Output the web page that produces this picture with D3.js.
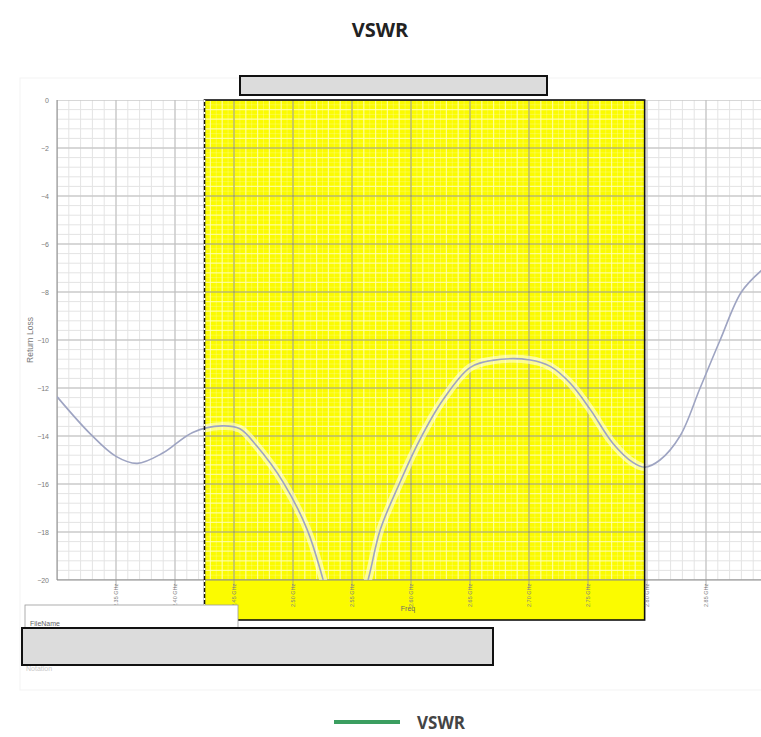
<!DOCTYPE html>
<html>
<head>
<meta charset="utf-8">
<script src="https://cdn.jsdelivr.net/npm/d3@7"></script>
<style>
  html, body { margin: 0; padding: 0; background: #fff; }
  svg { display: block; font-family: "Open Sans", "DejaVu Sans", sans-serif; }
</style>
</head>
<body>
<svg id="chart" width="761" height="737"></svg>
<script>
// Measured return loss sweep (frequency in GHz, return loss in dB)
const freqGHz = [
  2.300, 2.328, 2.350, 2.368, 2.390, 2.415, 2.440, 2.455, 2.469, 2.492,
  2.512, 2.525, 2.544, 2.564, 2.574, 2.590, 2.607, 2.627, 2.650, 2.669,
  2.701, 2.718, 2.735, 2.752, 2.771, 2.788, 2.798, 2.811, 2.828, 2.845,
  2.862, 2.880, 2.897
];
const returnLossDb = [
  -12.36, -13.90, -14.85, -15.14, -14.70, -13.85, -13.58, -13.70, -14.40, -15.95,
  -17.90, -19.90, -23.50, -19.93, -17.90, -16.00, -14.20, -12.50, -11.15, -10.85,
  -10.83, -11.10, -11.80, -12.90, -14.30, -15.10, -15.30, -15.00, -14.00, -12.00,
  -10.00, -8.00, -7.10
];

// Axis ticks
const yTicks = [0, -2, -4, -6, -8, -10, -12, -14, -16, -18, -20];
const xTicks = [2.35, 2.40, 2.45, 2.50, 2.55, 2.60, 2.65, 2.70, 2.75, 2.80, 2.85];
const xTickLabels = ["2.35 GHz", "2.40 GHz", "2.45 GHz", "2.50 GHz", "2.55 GHz", "2.60 GHz",
                     "2.65 GHz", "2.70 GHz", "2.75 GHz", "2.80 GHz", "2.85 GHz"];

// Highlighted band limits (GHz)
const bandGHz = [2.425, 2.798];

const seriesName = "VSWR";
const chartTitle = "VSWR";

const svg = d3.select("#chart");

const plot = { left: 57, right: 761, top: 100, bottom: 580 };
const x = d3.scaleLinear().domain([2.30, 2.90]).range([57, 765]);
const y = d3.scaleLinear().domain([0, -20]).range([plot.top, plot.bottom]);

const defs = svg.append("defs");
defs.append("clipPath").attr("id", "plotClip").append("rect")
  .attr("x", plot.left).attr("y", plot.top)
  .attr("width", plot.right - plot.left).attr("height", plot.bottom - plot.top);

const bandX0 = x(bandGHz[0]), bandX1 = x(bandGHz[1]);
defs.append("clipPath").attr("id", "bandClip").append("rect")
  .attr("x", bandX0).attr("y", plot.top)
  .attr("width", bandX1 - bandX0).attr("height", plot.bottom - plot.top);

// Faint frame of the instrument plot panel
svg.append("rect")
  .attr("x", 20).attr("y", 78).attr("width", 760).attr("height", 612)
  .attr("fill", "#fff").attr("stroke", "#f3f3f3");

// Grid helpers
function gridLines(g, xs, ys, color, width, opacity) {
  g.selectAll(null).data(xs).join("line")
    .attr("x1", d => x(d)).attr("x2", d => x(d))
    .attr("y1", plot.top).attr("y2", plot.bottom)
    .attr("stroke", color).attr("stroke-width", width).attr("stroke-opacity", opacity);
  g.selectAll(null).data(ys).join("line")
    .attr("x1", plot.left).attr("x2", plot.right)
    .attr("y1", d => y(d)).attr("y2", d => y(d))
    .attr("stroke", color).attr("stroke-width", width).attr("stroke-opacity", opacity);
}
const minorX = d3.range(0, 61).map(i => 2.30 + i * 0.01);
const minorY = d3.range(0, 51).map(i => -i * 0.4);
const fineX = d3.range(0, 121).map(i => 2.30 + i * 0.005);
const fineY = d3.range(0, 101).map(i => -i * 0.2);
const majorX = d3.range(0, 13).map(i => 2.30 + i * 0.05);

const gridG = svg.append("g").attr("clip-path", "url(#plotClip)");
gridLines(gridG, minorX, minorY, "#e4e4e4", 1, 1);
gridLines(gridG, majorX, yTicks, "#bdbdbd", 1, 1);

// Highlighted band
svg.append("rect")
  .attr("x", bandX0).attr("y", plot.top)
  .attr("width", bandX1 - bandX0).attr("height", 620 - plot.top)
  .attr("fill", "#fbfb00");

const bandGrid = svg.append("g").attr("clip-path", "url(#bandClip)");
gridLines(bandGrid, fineX, fineY, "#ffffff", 1, 0.22);
gridLines(bandGrid, minorX, minorY, "#ffffb0", 1.2, 0.75);
gridLines(bandGrid, majorX, yTicks, "#8a8a50", 1, 0.9);

// Tick marks extending below the plot
svg.append("g").selectAll("line").data(xTicks).join("line")
  .attr("x1", d => x(d)).attr("x2", d => x(d))
  .attr("y1", plot.bottom).attr("y2", plot.bottom + 8)
  .attr("stroke", "#9a9a9a").attr("stroke-width", 0.8);

// Axis lines
svg.append("line").attr("x1", plot.left).attr("x2", plot.left)
  .attr("y1", plot.top).attr("y2", plot.bottom).attr("stroke", "#8a8a8a");
svg.append("line").attr("x1", plot.left).attr("x2", plot.right)
  .attr("y1", plot.bottom).attr("y2", plot.bottom).attr("stroke", "#8a8a8a");

// Trace
const line = d3.line()
  .x((d, i) => x(freqGHz[i]))
  .y(d => y(d))
  .curve(d3.curveCatmullRom.alpha(0.5));

svg.append("path").datum(returnLossDb)
  .attr("clip-path", "url(#bandClip)")
  .attr("d", line).attr("fill", "none")
  .attr("stroke", "#ffffff").attr("stroke-width", 8).attr("stroke-opacity", 0.55);

svg.append("path").datum(returnLossDb)
  .attr("clip-path", "url(#plotClip)")
  .attr("d", line).attr("fill", "none")
  .attr("stroke", "#9ea4c2").attr("stroke-width", 1.6);

// Band border
svg.append("rect")
  .attr("x", bandX0).attr("y", plot.top)
  .attr("width", bandX1 - bandX0).attr("height", 620 - plot.top)
  .attr("fill", "none").attr("stroke", "#111").attr("stroke-width", 1.6);
svg.append("line")
  .attr("x1", bandX0).attr("x2", bandX0).attr("y1", plot.top).attr("y2", 620)
  .attr("stroke", "#fff").attr("stroke-width", 1.6).attr("stroke-dasharray", "2 4");

// Y axis labels
const yAxis = d3.axisLeft(y).tickValues(yTicks).tickSize(0).tickPadding(0)
  .tickFormat(d => d === 0 ? "0" : d3.format("d")(d));
const yAxisG = svg.append("g").attr("transform", "translate(49,0)").call(yAxis);
yAxisG.select(".domain").remove();
yAxisG.selectAll("text").attr("fill", "#7a7a7a").style("font-size", "7px")
  .style("font-family", "Arial, 'Liberation Sans', sans-serif");

svg.append("text")
  .attr("transform", `translate(33,${(plot.top + plot.bottom) / 2}) rotate(-90)`)
  .attr("text-anchor", "middle")
  .attr("fill", "#7a7a7a")
  .style("font-size", "8.5px")
  .style("font-family", "Arial, 'Liberation Sans', sans-serif")
  .text("Return Loss");

// X tick labels (rotated)
svg.append("g").selectAll("text").data(xTicks).join("text")
  .attr("transform", d => `translate(${x(d) + 2},607) rotate(-90)`)
  .attr("text-anchor", "start")
  .attr("fill", "#808080")
  .style("font-size", "5.5px")
  .style("font-family", "Arial, 'Liberation Sans', sans-serif")
  .text((d, i) => xTickLabels[i]);

svg.append("text")
  .attr("x", 408).attr("y", 611)
  .attr("text-anchor", "middle")
  .attr("fill", "#6a6a6a")
  .style("font-size", "7px")
  .style("font-family", "Arial, 'Liberation Sans', sans-serif")
  .text("Freq");

// File info box
svg.append("rect")
  .attr("x", 25).attr("y", 605).attr("width", 213).attr("height", 60)
  .attr("fill", "#fff").attr("stroke", "#9a9a9a").attr("stroke-width", 0.8);
svg.append("text")
  .attr("x", 30).attr("y", 626)
  .attr("fill", "#666")
  .style("font-size", "7px")
  .style("font-family", "Arial, 'Liberation Sans', sans-serif")
  .text("FileName");
svg.append("text")
  .attr("x", 26).attr("y", 671)
  .attr("fill", "#c8c8c8")
  .style("font-size", "7px")
  .style("font-family", "Arial, 'Liberation Sans', sans-serif")
  .text("Notation");

// Redacted panels
svg.append("rect")
  .attr("x", 240).attr("y", 76).attr("width", 307).attr("height", 19)
  .attr("fill", "#dcdcdc").attr("stroke", "#111").attr("stroke-width", 2);
svg.append("rect")
  .attr("x", 22).attr("y", 628).attr("width", 471).attr("height", 37)
  .attr("fill", "#dcdcdc").attr("stroke", "#111").attr("stroke-width", 2);

// Title
svg.append("text")
  .attr("x", 380).attr("y", 37)
  .attr("text-anchor", "middle")
  .attr("fill", "#222")
  .style("font-size", "20px").style("font-weight", "bold")
  .text(chartTitle);

// Legend
svg.append("line")
  .attr("x1", 334).attr("x2", 400).attr("y1", 722).attr("y2", 722)
  .attr("stroke", "#3b9e60").attr("stroke-width", 4);
svg.append("text")
  .attr("x", 417).attr("y", 729)
  .attr("fill", "#444")
  .style("font-size", "17px").style("font-weight", "bold")
  .text(seriesName);
</script>
</body>
</html>
